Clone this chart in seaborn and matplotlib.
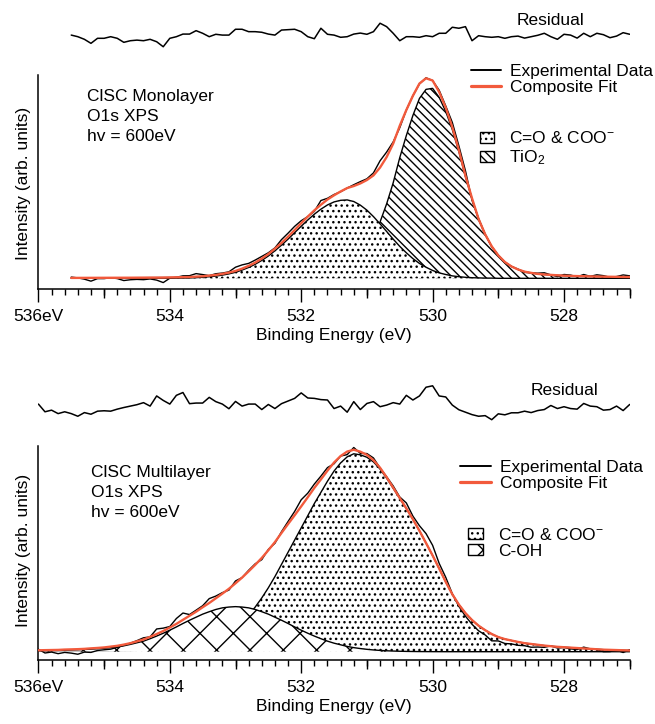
import numpy as np
import matplotlib
matplotlib.use('Agg')
import matplotlib.pyplot as plt
from matplotlib.lines import Line2D
from matplotlib.patches import Patch
from matplotlib.ticker import FixedLocator, MultipleLocator, NullLocator
import seaborn as sns

# Binding energy grids (eV), 0.1 eV steps, high -> low
energy_top = np.round(np.arange(535.5, 526.95, -0.1), 1)
energy_bot = np.round(np.arange(536.0, 526.95, -0.1), 1)

# --- Monolayer: fitted components (arb. units) ---
tio2_top = [0.20, 0.21, 0.22, 0.23, 0.24, 0.25, 0.26, 0.27, 0.28, 0.29,
            0.31, 0.32, 0.34, 0.35, 0.37, 0.39, 0.41, 0.43, 0.45, 0.48,
            0.51, 0.54, 0.57, 0.61, 0.63, 0.67, 0.72, 0.77, 0.82, 0.89,
            0.96, 1.04, 1.1, 1.2, 1.3, 1.5, 1.7, 1.9, 2.2, 2.7,
            3.3, 4.4, 5.9, 7.7, 10.8, 15.0, 20.5, 28.0, 37.0, 47.5,
            60.0, 71.0, 81.0, 89.5, 94.0, 94.5, 90.0, 83.0, 74.0, 63.0,
            50.5, 39.5, 29.3, 21.8, 15.8, 11.4, 8.1, 5.9, 4.4, 3.3,
            2.7, 2.2, 1.9, 1.7, 1.5, 1.3, 1.2, 1.1, 1.04, 0.96,
            0.89, 0.82, 0.77, 0.72, 0.67, 0.63]
co_top = [0.0, 0.0, 0.0, 0.0, 0.0, 0.0, 0.0, 0.0, 0.0, 0.0,
          0.0, 0.0, 0.0, 0.0, 0.0, 0.05, 0.1, 0.15, 0.2, 0.35,
          0.5, 0.8, 1.1, 1.6, 2.2, 3.0, 4.1, 5.4, 7.0, 8.9,
          11.1, 13.7, 16.5, 19.5, 22.7, 25.9, 29.0, 31.9, 34.4, 36.5,
          38.0, 38.8, 39.0, 38.2, 36.4, 33.9, 30.7, 27.1, 23.3, 19.5,
          15.9, 12.7, 9.8, 7.4, 5.5, 3.9, 2.7, 1.9, 1.2, 0.8,
          0.5, 0.3, 0.2, 0.1, 0.1, 0.0, 0.0, 0.0, 0.0, 0.0,
          0.0, 0.0, 0.0, 0.0, 0.0, 0.0, 0.0, 0.0, 0.0, 0.0,
          0.0, 0.0, 0.0, 0.0, 0.0, 0.0]
# residual trace as drawn (magnified by RESID_GAIN)
resid_top = [0.8, 0.0, -1.3, -3.3, -0.8, -0.8, 0.0, -0.8, -2.8, -2.0,
             -1.7, -2.0, -1.3, -2.5, -5.0, -0.8, 0.0, 1.3, 1.3, 3.0,
             1.7, 0.0, 1.2, 0.8, 0.8, 3.7, 3.7, 2.5, 2.5, 2.2,
             1.3, 0.8, 3.3, 3.5, 3.7, 2.5, 0.0, -1.0, 4.2, 1.2,
             0.8, -0.3, 0.0, 1.3, 1.8, 1.2, 2.5, 6.7, 5.0, 1.7,
             -2.0, 0.0, 0.0, -0.3, 0.5, 0.0, 1.7, 1.7, 4.7, 4.2,
             5.0, -2.0, 0.5, 0.0, -0.3, 0.0, -0.8, 0.0, 0.3, -0.7,
             0.0, 0.7, 1.7, 0.0, -1.3, 1.2, 0.8, -0.7, 1.7, 0.0,
             1.7, 1.0, -0.5, 0.3, 2.0, 1.2]

# --- Multilayer: fitted components (arb. units) ---
co_bot = [0.2, 0.2, 0.2, 0.2, 0.3, 0.3, 0.3, 0.3, 0.4, 0.4,
          0.4, 0.5, 0.5, 0.6, 0.6, 0.7, 0.8, 0.9, 1.0, 1.1,
          1.3, 1.5, 1.8, 2.2, 2.7, 3.4, 4.3, 5.5, 7.0, 9.0,
          11.5, 14.5, 18.0, 22.0, 26.5, 31.5, 37.0, 43.0, 49.0, 55.0,
          61.0, 67.0, 73.0, 78.5, 84.0, 89.0, 93.0, 96.0, 97.5, 97.0,
          95.8, 93.5, 90.0, 85.5, 80.5, 75.5, 70.5, 65.2, 59.5, 53.5,
          47.4, 41.0, 34.4, 28.3, 23.2, 19.0, 15.6, 12.8, 10.6, 8.7,
          7.2, 6.2, 5.5, 4.8, 4.2, 3.8, 3.4, 3.0, 2.7, 2.4,
          2.2, 2.0, 1.8, 1.6, 1.4, 1.2, 1.0, 0.9, 0.8, 0.7,
          0.6]
coh_bot = [0.5, 0.56, 0.62, 0.68, 0.75, 0.85, 0.95, 1.1, 1.25, 1.45,
           1.7, 2.0, 2.4, 2.9, 3.6, 4.4, 5.2, 6.4, 7.7, 9.1,
           10.6, 12.2, 13.9, 15.5, 17.0, 18.5, 19.7, 20.8, 21.6, 22.0,
           22.2, 22.0, 21.6, 20.8, 19.7, 18.5, 17.0, 15.5, 13.9, 12.2,
           10.6, 9.1, 7.7, 6.4, 5.2, 4.2, 3.4, 2.6, 2.0, 1.55,
           1.17, 0.86, 0.63, 0.45, 0.32, 0.22, 0.15, 0.1, 0.06, 0.04,
           0.02, 0.01, 0.0, 0.0, 0.0, 0.0, 0.0, 0.0, 0.0, 0.0,
           0.0, 0.0, 0.0, 0.0, 0.0, 0.0, 0.0, 0.0, 0.0, 0.0,
           0.0, 0.0, 0.0, 0.0, 0.0, 0.0, 0.0, 0.0, 0.0, 0.0,
           0.0]
resid_bot = [1.0, -2.8, -2.0, -3.7, -2.8, -3.7, -5.0, -3.2, -4.0, -2.5,
             -2.3, -2.5, -1.5, -0.7, 0.0, 0.7, 1.7, 0.0, 5.0, 2.8,
             1.0, 5.3, 6.7, 1.2, 1.5, 1.5, 4.3, 2.2, 1.0, -1.3,
             2.3, 0.0, 1.0, 1.0, -1.7, 0.8, -1.2, 1.2, 2.5, 3.8,
             6.5, 4.0, 3.8, 3.2, 3.0, -1.2, 0.0, -3.0, 2.2, -1.7,
             1.3, 2.2, -0.3, 0.5, 1.7, 1.0, 5.3, 3.0, 5.0, 9.3,
             10.0, 5.0, 4.5, 0.5, -1.8, -3.0, -4.2, -5.0, -4.7, -6.7,
             -3.8, -4.3, -3.3, -3.3, -2.5, -3.2, -2.2, -1.7, 0.3, -1.2,
             -0.3, -1.2, -1.5, 1.3, 0.0, -0.3, -2.0, -1.7, 0.0, -2.2,
             0.8]

RESID_GAIN = 2.0

major_ticks = [536, 534, 532, 530, 528]
tick_labels = ['536eV', '534', '532', '530', '528']
odd_ticks = [535, 533, 531, 529, 527]

sns.set_theme(style='ticks')
plt.rcParams['font.family'] = ['Liberation Sans', 'DejaVu Sans']
plt.rcParams['mathtext.fontset'] = 'custom'
plt.rcParams['mathtext.rm'] = 'Liberation Sans'
plt.rcParams['mathtext.it'] = 'Liberation Sans:italic'
plt.rcParams['hatch.linewidth'] = 1.0
plt.rcParams['hatch.color'] = 'black'
plt.rcParams['text.color'] = 'black'
plt.rcParams['axes.labelcolor'] = 'black'
plt.rcParams['xtick.color'] = 'black'
plt.rcParams['xtick.labelcolor'] = 'black'

FIT_RED = '#f25a3c'
FS = 12.5
W, H = 655, 724

fig = plt.figure(figsize=(W / 100, H / 100), dpi=100)


def px_axes(left, top, right, bottom):
    return fig.add_axes([left / W, 1 - bottom / H, (right - left) / W, (bottom - top) / H])


def draw_panel(ax, energy, comp_low, comp_high, hatch_low, hatch_high,
               resid, resid_base, ylim, spine_top):
    comp_low = np.asarray(comp_low)
    comp_high = np.asarray(comp_high)
    resid = np.asarray(resid)
    fit = comp_low + comp_high
    data = fit + resid / RESID_GAIN

    # lower-BE component first, higher-BE component drawn over it
    ax.fill_between(energy, 0, comp_low, facecolor='white', edgecolor='black',
                    linewidth=0, hatch=hatch_low, zorder=1)
    sns.lineplot(x=energy, y=comp_low, ax=ax, color='black', linewidth=1.0,
                 sort=False, zorder=1.5)
    ax.fill_between(energy, 0, comp_high, facecolor='white', edgecolor='black',
                    linewidth=0, hatch=hatch_high, zorder=2)
    sns.lineplot(x=energy, y=comp_high, ax=ax, color='black', linewidth=1.0,
                 sort=False, zorder=2.5)
    sns.lineplot(x=energy, y=data, ax=ax, color='black', linewidth=1.0,
                 sort=False, zorder=3)
    sns.lineplot(x=energy, y=fit, ax=ax, color=FIT_RED, linewidth=1.7,
                 sort=False, zorder=3.5)
    sns.lineplot(x=energy, y=resid_base + resid, ax=ax, color='black',
                 linewidth=1.1, sort=False, zorder=3)

    ax.set_xlim(536, 527)
    ax.set_ylim(*ylim)
    ax.xaxis.set_major_locator(FixedLocator(major_ticks))
    ax.set_xticklabels(tick_labels)
    ax.xaxis.set_minor_locator(MultipleLocator(0.2))
    ax.tick_params(axis='x', which='major', direction='out', length=9.1,
                   width=1.0, pad=5.5, labelsize=FS, color='black',
                   labelcolor='black', bottom=True)
    ax.tick_params(axis='x', which='minor', direction='out', length=4.3,
                   width=1.0, color='black', bottom=True)
    ax.set_yticks([])
    sns.despine(ax=ax, top=True, right=True)
    for side in ('left', 'bottom'):
        ax.spines[side].set_color('black')
        ax.spines[side].set_linewidth(1.1)
    ax.spines['left'].set_bounds(ylim[0], spine_top)

    sec = ax.secondary_xaxis('bottom')
    sec.set_xticks(odd_ticks)
    sec.xaxis.set_minor_locator(NullLocator())
    sec.tick_params(axis='x', length=6.7, width=1.0, color='black', labelbottom=False)
    sec.spines['bottom'].set_visible(False)

    ax.set_xlabel('Binding Energy (eV)', fontsize=FS, labelpad=3, color='black')
    ax.set_ylabel('Intensity (arb. units)', fontsize=FS, color='black')
    ax.set_facecolor('white')


def add_legends(ax, line_left, line_top, line_len, patch_left, patch_top,
                patch_labels, patch_hatches, patch_spacing):
    lines = [Line2D([], [], color='black', linewidth=1.4),
             Line2D([], [], color=FIT_RED, linewidth=2.3)]
    leg1 = ax.legend(lines, ['Experimental Data', 'Composite Fit'],
                     loc='upper left', bbox_to_anchor=(line_left / W, 1 - line_top / H),
                     bbox_transform=fig.transFigure, frameon=False, fontsize=FS,
                     handlelength=line_len, handletextpad=0.52, labelspacing=0.0,
                     borderpad=0, borderaxespad=0, labelcolor='black')
    ax.add_artist(leg1)
    patches = [Patch(facecolor='white', edgecolor='black', linewidth=1.0, hatch=h)
               for h in patch_hatches]
    ax.legend(patches, patch_labels,
              loc='upper left', bbox_to_anchor=(patch_left / W, 1 - patch_top / H),
              bbox_transform=fig.transFigure, frameon=False, fontsize=FS,
              handlelength=0.86, handleheight=0.6, handletextpad=0.86,
              labelspacing=patch_spacing, borderpad=0, borderaxespad=0,
              labelcolor='black')


# ---------- top: monolayer ----------
ax_top = px_axes(38.4, 5, 629.7, 289)
draw_panel(ax_top, energy_top, tio2_top, co_top, '\\\\\\\\', '...',
           resid_top, 120.2, (-5.32, 135.97), 101)
ax_top.yaxis.set_label_coords(-0.0117, 0.373)
ax_top.text(528.21, 128.5, 'Residual', ha='center', va='center', fontsize=FS)
add_legends(ax_top, 471, 64.3, 1.72, 479.5, 130.3,
            ['C=O & COO$^{-}$', 'TiO$_2$'], ['...', '\\\\\\\\'], 0.13)
for text, y in zip(['ClSC Monolayer', 'O1s XPS', 'hv = 600eV'], [96.7, 116.7, 136.7]):
    fig.text(87 / W, 1 - y / H, text, ha='left', va='center', fontsize=FS)

# ---------- bottom: multilayer ----------
ax_bot = px_axes(38.4, 372, 629.7, 660)
draw_panel(ax_bot, energy_bot, co_bot, coh_bot, '...', 'x',
           resid_bot, 121.0, (-4.09, 137.8), 101.3)
ax_bot.yaxis.set_label_coords(-0.0117, 0.382)
ax_bot.text(528.0, 128.9, 'Residual', ha='center', va='center', fontsize=FS)
add_legends(ax_bot, 459.5, 460.3, 1.81, 468, 527,
            ['C=O & COO$^{-}$', 'C-OH'], ['...', 'x'], 0.03)
for text, y in zip(['ClSC Multilayer', 'O1s XPS', 'hv = 600eV'], [472.7, 492.7, 512.7]):
    fig.text(91 / W, 1 - y / H, text, ha='left', va='center', fontsize=FS)

fig.savefig('out.png', dpi=100)
